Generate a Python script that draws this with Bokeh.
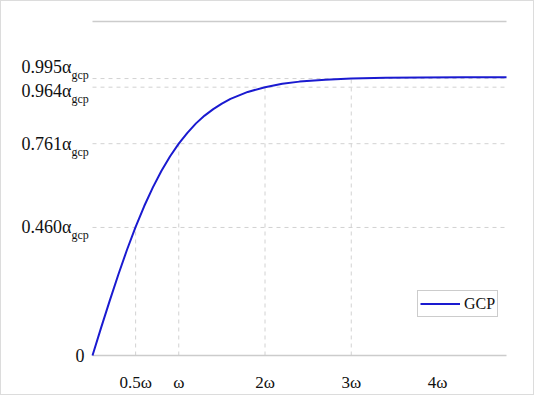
from bokeh.plotting import figure
from bokeh.models import (Range1d, Label, Legend, LegendItem, FixedTicker)
from bokeh.embed import file_html
from bokeh.resources import INLINE

# curve (x in units of omega, y in units of alpha_gcp)
curve_x = [0.0, 0.1, 0.2, 0.3, 0.4, 0.5, 0.6, 0.7, 0.8, 0.9, 1.0, 1.1, 1.2, 1.3,
           1.4, 1.5, 1.6, 1.8, 2.0, 2.2, 2.4, 2.7, 3.0, 3.4, 3.8, 4.3, 4.8]
curve_y = [0.0, 0.100, 0.197, 0.291, 0.380, 0.462, 0.537, 0.604, 0.664, 0.716,
           0.761, 0.800, 0.834, 0.862, 0.885, 0.905, 0.922, 0.947, 0.964, 0.976,
           0.984, 0.991, 0.995, 0.998, 0.999, 1.000, 1.000]

ref_x = [0.5, 1.0, 2.0, 3.0]
ref_y = [0.460, 0.761, 0.964, 0.995]
ref_labels = ["0.460", "0.761", "0.964", "0.995"]
label_shift = [0, 0, -4, 12]

x_ticks = [0.5, 1, 2, 3, 4]
x_tick_labels = ["0.5\u03c9", "\u03c9", "2\u03c9", "3\u03c9", "4\u03c9"]

X_MAX = 4.8
Y_TOP = 1.2

FONT = "Liberation Serif"
GRID = "#d2d2d2"
AXIS = "#cccccc"
BLUE = "#1a1ad0"
TXT = "#111111"

# frame spans the whole left side so that the y labels (drawn as labels) are not clipped
PX_X = 86.25
PX_Y = 278.3
p = figure(width=534, height=395, output_backend="svg", toolbar_location=None,
           x_range=Range1d(-91 / PX_X, 421 / PX_X),
           y_range=Range1d(-10 / PX_Y, Y_TOP + 4 / PX_Y),
           min_border_left=0, min_border_right=22, min_border_top=16,
           min_border_bottom=31)
p.styles = {"border": "1px solid #dcdcdc"}
p.outline_line_color = None
p.xgrid.visible = False
p.ygrid.visible = False
p.yaxis.visible = False

# horizontal reference lines
p.segment(x0=[0] * len(ref_y), y0=ref_y, x1=[X_MAX] * len(ref_y), y1=ref_y,
          line_color=GRID, line_width=1, line_dash="4 4")
# vertical reference lines from axis to curve
p.segment(x0=ref_x, y0=[0] * len(ref_x), x1=ref_x, y1=ref_y, line_color=GRID,
          line_width=1, line_dash="4 4")

# bottom axis line and top frame line
p.segment(x0=[0, 0], y0=[0, Y_TOP], x1=[X_MAX, X_MAX], y1=[0, Y_TOP],
          line_color=AXIS, line_width=1.5)

r = p.line(curve_x, curve_y, line_color=BLUE, line_width=2)

# x axis: labels only
p.xaxis.ticker = FixedTicker(ticks=x_ticks)
p.xaxis.major_label_overrides = {t: l for t, l in zip(x_ticks, x_tick_labels)}
p.xaxis.major_tick_line_color = None
p.xaxis.minor_tick_line_color = None
p.xaxis.axis_line_color = None
p.xaxis.major_label_text_font = FONT
p.xaxis.major_label_text_font_size = "17px"
p.xaxis.major_label_text_color = TXT
p.xaxis.major_label_standoff = 1

# y labels with subscripts
p.add_layout(Label(x=0, y=0, x_offset=-8, text="0", text_align="right",
                   text_baseline="middle", text_font=FONT,
                   text_font_size="18px", text_color=TXT))
for yv, lab, sh in zip(ref_y, ref_labels, label_shift):
    p.add_layout(Label(x=0, y=yv, x_offset=-21, y_offset=sh,
                       text=lab + "\u03b1", text_align="right",
                       text_baseline="middle", text_font=FONT,
                       text_font_size="18px", text_color=TXT))
    p.add_layout(Label(x=0, y=yv, x_offset=-21, y_offset=sh - 8,
                       text="gcp", text_align="left",
                       text_baseline="middle", text_font=FONT,
                       text_font_size="12px", text_color=TXT))

legend = Legend(items=[LegendItem(label="GCP", renderers=[r])],
                location=(416, 48))
legend.label_text_font = FONT
legend.label_text_font_size = "16px"
legend.label_text_color = TXT
legend.glyph_width = 40
legend.glyph_height = 21
legend.label_height = 21
legend.label_standoff = 4
legend.padding = 2
legend.margin = 0
legend.border_line_color = "#9a9a9a"
legend.border_line_width = 1
legend.background_fill_alpha = 1
p.add_layout(legend)

open("out.html", "w").write(file_html(p, INLINE))
